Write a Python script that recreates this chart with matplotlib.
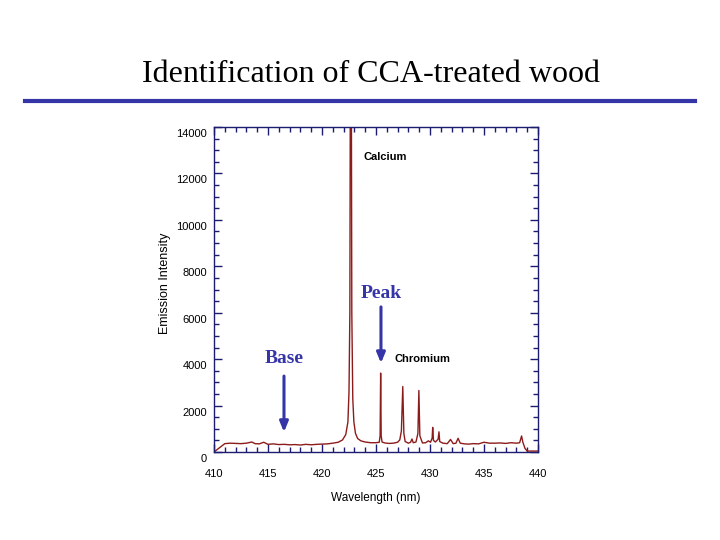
import matplotlib
matplotlib.use("Agg")
import matplotlib.pyplot as plt
from matplotlib.ticker import MultipleLocator
import matplotlib.transforms as mtransforms

# ---- data ----
wavelength = [410.0, 410.5, 411.0, 411.5, 412.0, 412.5, 413.0, 413.5, 413.8, 414.2,
              414.6, 415.0, 415.5, 416.0, 416.5, 417.0, 417.5, 418.0, 418.5, 419.0,
              419.5, 420.0, 420.5, 421.0, 421.5, 421.9, 422.2, 422.4, 422.5, 422.58,
              422.62, 422.72, 422.76, 422.85, 422.95, 423.1, 423.3, 423.6, 424.0, 424.5,
              425.0, 425.3, 425.38, 425.43, 425.48, 425.56, 425.8, 426.2, 426.6, 427.0,
              427.2, 427.35, 427.48, 427.58, 427.7, 428.0, 428.2, 428.33, 428.45, 428.7,
              428.88, 428.97, 429.06, 429.3, 429.6, 429.85, 430.05, 430.2, 430.25, 430.32,
              430.5, 430.75, 430.83, 430.9, 431.2, 431.6, 431.9, 432.15, 432.4, 432.6,
              432.8, 433.2, 433.6, 434.0, 434.5, 435.0, 435.5, 436.0, 436.5, 437.0,
              437.5, 438.0, 438.3, 438.48, 438.6, 438.8, 439.0, 439.5, 440.0]
intensity = [0, 180, 360, 380, 370, 360, 380, 430, 360, 350,
             420, 330, 350, 320, 330, 310, 320, 300, 330, 310,
             330, 340, 350, 380, 420, 520, 750, 1300, 2600, 6000,
             15500, 15500, 6000, 2300, 1300, 800, 580, 480, 430, 400,
             400, 420, 700, 3400, 700, 430, 390, 370, 380, 420,
             520, 900, 2820, 800, 450, 380, 420, 560, 400, 430,
             800, 2650, 700, 390, 400, 480, 420, 600, 1060, 500,
             430, 550, 870, 450, 380, 360, 540, 360, 380, 590,
             380, 350, 340, 360, 350, 420, 380, 380, 390, 370,
             400, 380, 400, 690, 420, 150, 40, 40, 40]

x_ticks = [410, 415, 420, 425, 430, 435, 440]
y_ticks = [0, 2000, 4000, 6000, 8000, 10000, 12000, 14000]

title = "Identification of CCA-treated wood"
xlabel = "Wavelength (nm)"
ylabel = "Emission Intensity"

line_color = "#8c1c1c"
navy = "#1c1c70"
blue = "#3535a8"

W, H = 720, 540
fig = plt.figure(figsize=(7.2, 5.4), dpi=100)
fig.patch.set_facecolor("white")

def fx(px):
    return px / W

def fy(py):
    return 1 - py / H

ax = fig.add_axes([fx(214), fy(452), fx(538) - fx(214), fy(127) - fy(452)])
ax.plot(wavelength, intensity, color=line_color, lw=1.0)
ax.set_xlim(410, 440)
ax.set_ylim(0, 14000)
ax.set_xticks(x_ticks)
ax.set_yticks(y_ticks)
ax.xaxis.set_minor_locator(MultipleLocator(1))
ax.yaxis.set_minor_locator(MultipleLocator(500))
for s in ax.spines.values():
    s.set_color(navy)
    s.set_linewidth(1.0)
ax.tick_params(which="both", direction="in", top=True, right=True, color=navy, width=1.0)
ax.tick_params(which="major", length=6)
ax.tick_params(which="minor", length=3.5)
ax.tick_params(axis="x", which="major", pad=12, labelsize=8)
ax.tick_params(axis="y", which="major", pad=5, labelsize=8)
for lab in ax.get_xticklabels() + ax.get_yticklabels():
    lab.set_fontfamily("Liberation Sans")
# y tick labels sit slightly below their ticks in the reference
off = mtransforms.ScaledTranslation(0, -6 / 100, fig.dpi_scale_trans)
for lab in ax.get_yticklabels():
    lab.set_transform(lab.get_transform() + off)

fig.text(fx(165), fy(283), ylabel, rotation=90, ha="center", va="center",
         fontsize=9, family="Liberation Sans")
fig.text(fx(376), fy(498), xlabel, ha="center", va="center",
         fontsize=8.5, family="Liberation Sans")

# title and rule
fig.text(fx(371), fy(74), title, ha="center", va="center", fontsize=23,
         family="Liberation Serif")
fig.add_artist(plt.Line2D([fx(25), fx(695)], [fy(101), fy(101)], color=blue, lw=3.0,
                          transform=fig.transFigure))

# annotations
ax.text(425.9, 12700, "Calcium", fontsize=8, fontweight="bold", family="Liberation Sans",
        ha="center", va="center")
ax.text(429.3, 4010, "Chromium", fontsize=8, fontweight="bold", family="Liberation Sans",
        ha="center", va="center")
ax.text(425.46, 6820, "Peak", fontsize=14, fontweight="bold", family="Liberation Serif",
        color=blue, ha="center", va="center")
ax.text(416.48, 4030, "Base", fontsize=14, fontweight="bold", family="Liberation Serif",
        color=blue, ha="center", va="center")
arrowprops = dict(arrowstyle="-|>,head_length=0.6,head_width=0.25", color=blue, lw=2.2,
                  shrinkA=0, shrinkB=0)
ax.annotate("", xy=(425.46, 3830), xytext=(425.46, 6250), arrowprops=arrowprops)
ax.annotate("", xy=(416.48, 860), xytext=(416.48, 3270), arrowprops=arrowprops)

fig.savefig("out.png", dpi=100, facecolor="white")
